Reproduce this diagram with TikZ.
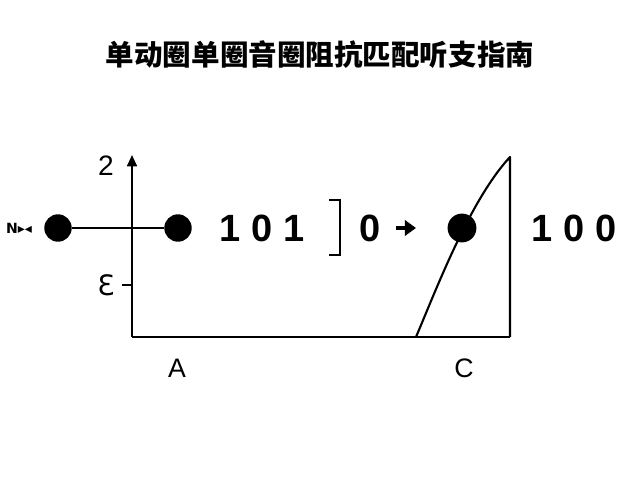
\documentclass[tikz,border=0pt]{standalone}
\usepackage{fontspec}
\setmainfont{Liberation Sans}
\newfontfamily\cjk{Noto Sans CJK SC}
\newfontfamily\symfont{DejaVu Sans}
\usetikzlibrary{arrows.meta}

\begin{document}
\begin{tikzpicture}[
    x=0.025cm, y=-0.025cm,
    dot/.style={circle, fill=black, inner sep=0pt, minimum size=19.5pt},
    digits/.style={font=\fontsize{27}{30}\selectfont\bfseries, inner sep=0pt},
    axislabel/.style={font=\fontsize{20}{22}\selectfont, inner sep=0pt},
    line/.style={line width=1.5pt}
]
\useasboundingbox[fill=white] (0,0) rectangle (640,480);

% Title
\node[font=\fontsize{20.3}{24}\selectfont\cjk\bfseries] (title) at (320,55) {单动圈单圈音圈阻抗匹配听支指南};

% Axis and base line
\coordinate (origin) at (132,337);
\coordinate (top) at (132,155);
\coordinate (baseend) at (510,337);
\draw[line, -{Triangle[length=8pt,width=7pt]}] (origin) -- (top);
\draw[line] (origin) -- (baseend);

% Axis labels
\node[axislabel] (ltwo) at (106,166) {2};
\node[axislabel, font=\fontsize{20}{22}\selectfont\symfont] (leps) at (106,285) {Ɛ};
\coordinate (tick) at (122,285);
\draw[line] (tick) -- (132,285);

% Left pair of dots
\node[font=\fontsize{10}{11}\selectfont\symfont\bfseries, inner sep=0pt] (mark) at (19,228) {N▸◂};
\node[dot] (left) at (58,228) {};
\node[dot] (right) at (178,228) {};
\draw[line] (left) -- (right);

% Middle digits
\node[digits] (first) at (262,228) {1 0 1};
\coordinate (bra) at (329,200);
\coordinate (ket) at (329,255);
\draw[line width=2pt] (bra) -- (340,200) -- (340,255) -- (ket);
\node[digits] (zero) at (370,228) {0};
\coordinate (arrs) at (396,228);
\coordinate (arre) at (416,228);
\draw[line width=3pt, -{Triangle[length=8pt,width=11pt]}] (arrs) -- (arre);

% Curve with dot
\coordinate (cbot) at (416,337);
\coordinate (ctop) at (510,157);
\draw[line, line join=round] (cbot) .. controls (436,290) and (470,200) .. (ctop) -- (baseend);
\node[dot, minimum size=20.5pt] (cdot) at (462,228) {};

% Right digits
\node[digits] (second) at (574,228) {1 0 0};

% Bottom labels
\node[axislabel, font=\fontsize{19}{21}\selectfont] (labA) at (177,368) {A};
\node[axislabel, font=\fontsize{19}{21}\selectfont] (labC) at (464,368) {C};

\end{tikzpicture}
\end{document}
